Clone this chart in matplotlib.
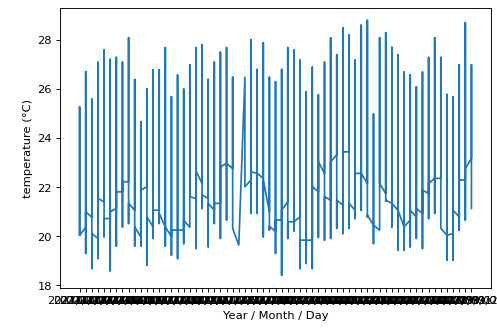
import pandas as pd
import matplotlib
matplotlib.use("Agg")
import matplotlib.pyplot as plt

# =========================
# data
# =========================
dates = pd.date_range("2021/07/01", periods=65, freq="D").strftime("%Y/%m/%d").tolist()

# level where the line arrives at each day
enter = [20.04, 20.36, 20.77, 19.91, 21.40, 20.72, 21.13, 21.81, 22.22, 21.06,
         19.98, 22.02, 20.38, 21.06, 20.38, 19.98, 20.25, 20.25, 20.36, 21.54,
         22.15, 21.54, 21.06, 21.34, 22.97, 22.76, 19.64, 26.48, 22.29, 22.56,
         22.36, 21.00, 20.20, 20.66, 21.40, 20.59, 20.79, 19.84, 19.84, 21.81,
         22.56, 21.47, 23.31, 21.27, 23.44, 21.06, 22.56, 22.15, 20.45, 20.25,
         21.74, 21.34, 21.06, 20.38, 20.66, 20.79, 20.93, 21.74, 22.36, 22.36,
         20.04, 20.11, 20.79, 22.29, 23.17]

# daily maximum
top = [25.28, 26.71, 25.59, 27.09, 27.59, 27.21, 27.29, 27.10, 28.09, 26.39,
       24.67, 26.00, 26.79, 26.79, 27.69, 25.69, 26.57, 26.00, 26.99, 27.69,
       27.80, 26.39, 27.10, 27.50, 27.69, 26.48, 19.64, 26.48, 28.00, 26.80,
       27.89, 26.48, 26.30, 26.80, 27.69, 27.59, 27.18, 25.89, 26.89, 25.77,
       27.09, 28.09, 27.40, 28.50, 28.20, 27.18, 28.61, 28.80, 24.98, 28.09,
       28.30, 27.70, 27.40, 26.69, 26.58, 26.09, 26.69, 27.29, 28.09, 27.29,
       25.78, 25.69, 26.99, 28.71, 26.99]

# daily minimum
low = [20.04, 19.30, 18.68, 19.09, 19.98, 18.59, 19.60, 20.38, 20.52, 19.60,
       19.60, 18.82, 19.91, 20.52, 19.60, 19.23, 19.09, 19.70, 20.38, 19.50,
       21.13, 19.57, 20.52, 19.91, 20.66, 20.32, 19.64, 22.02, 20.93, 20.93,
       19.98, 20.25, 19.30, 18.41, 19.91, 20.22, 18.68, 18.89, 18.68, 19.95,
       19.84, 19.91, 20.32, 20.11, 20.32, 20.72, 21.06, 20.79, 19.70, 20.32,
       21.44, 20.38, 19.43, 19.43, 19.57, 19.91, 19.50, 20.72, 20.93, 20.32,
       19.02, 19.02, 20.25, 20.66, 21.13]

# level where the line leaves each day
leave = [20.04, 21.00, 20.11, 21.54, 20.72, 21.00, 21.81, 22.22, 21.34, 20.38,
         21.88, 20.79, 21.06, 20.93, 20.38, 20.25, 20.25, 20.66, 21.61, 22.67,
         21.68, 21.34, 21.34, 22.83, 22.97, 20.32, 19.64, 22.02, 22.63, 22.56,
         22.30, 20.40, 20.66, 21.06, 20.59, 20.59, 19.84, 19.84, 22.02, 23.04,
         21.61, 23.04, 21.47, 23.44, 21.34, 22.56, 22.56, 20.86, 20.45, 22.15,
         21.47, 21.34, 21.06, 20.38, 21.06, 21.13, 21.88, 22.15, 22.36, 20.32,
         20.04, 21.06, 22.29, 22.76, 21.13]

# =========================
# long format: one row per reading
# =========================
x, y = [], []
for d, a, t, b, e in zip(dates, enter, top, low, leave):
    for v in (a, t, b, e):
        x.append(d)
        y.append(v)

fig = plt.figure(figsize=(6, 4), dpi=82.84)
ax = fig.add_axes([60 / 497, 43 / 331, 431 / 497, 280 / 331])

ax.plot(x, y)

ax.set_xlabel("Year / Month / Day")
ax.set_ylabel("temperature (°C)")

fig.savefig("out.png", dpi=82.84)
